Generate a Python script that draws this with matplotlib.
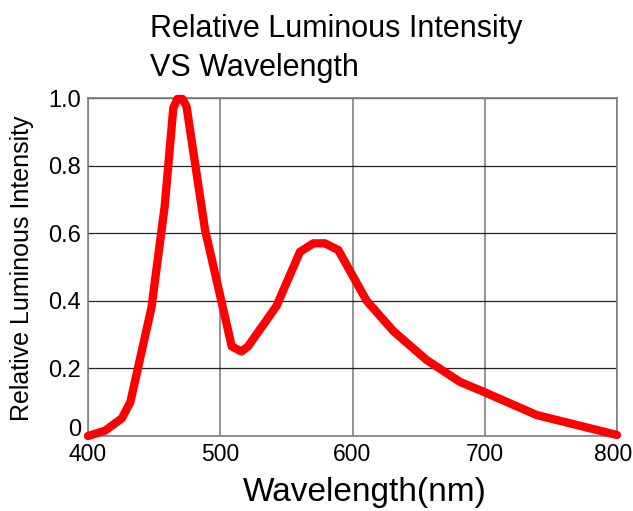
import numpy as np
import matplotlib.pyplot as plt
import matplotlib.transforms as mtransforms

plt.rcParams.update({'font.family': ['Liberation Sans', 'DejaVu Sans']})

# spectrum
wavelength = [400, 413, 425.5, 432, 448, 458, 464.5, 467.5, 471.5, 474.5, 488.5, 508.7, 516, 521,
              542.6, 560.3, 570.4, 579.2, 589.3, 610.7, 631, 656, 681.3, 699, 739.3, 800]
intensity = [0.0, 0.016, 0.052, 0.10, 0.38, 0.68, 0.97, 0.997, 0.997, 0.975, 0.61, 0.265, 0.25, 0.265,
             0.385, 0.545, 0.57, 0.57, 0.55, 0.40, 0.31, 0.225, 0.16, 0.131, 0.062, 0.003]

xticks = [400, 500, 600, 700, 800]
yticks = [0, 0.2, 0.4, 0.6, 0.8, 1.0]
ytick_labels = ['0', '0.2', '0.4', '0.6', '0.8', '1.0']

fig = plt.figure(figsize=(6.33, 5.11), dpi=100)
ax = fig.add_axes([88/633, 1-436/511, 529/633, 338/511])

ax.plot(wavelength, intensity, color='#ff0000', lw=6, solid_joinstyle='round',
        solid_capstyle='round', clip_on=False, zorder=5)

ax.set_xlim(400, 800)
ax.set_ylim(0, 1.0)
ax.set_xticks(xticks)
ax.set_yticks(yticks)
ax.set_yticklabels(ytick_labels)
ax.tick_params(length=0)
ax.tick_params(axis='y', pad=5, labelsize=17)
ax.tick_params(axis='x', pad=5, labelsize=16.5)

# the "0" label sits a bit above the bottom line, "800" is pulled in from the edge
lab0 = ax.get_yticklabels()[0]
lab0.set_transform(lab0.get_transform() + mtransforms.ScaledTranslation(0, 9/100, fig.dpi_scale_trans))
lab800 = ax.get_xticklabels()[-1]
lab800.set_transform(lab800.get_transform() + mtransforms.ScaledTranslation(-4/100, 0, fig.dpi_scale_trans))

for x in xticks:
    ax.axvline(x, color='#808080', lw=1.2, zorder=1)
for y in yticks:
    ax.axhline(y, color='#222222', lw=0.9, zorder=1)
for s in ax.spines.values():
    s.set_color('#808080')
    s.set_linewidth(1.2)

ax.set_xlabel('Wavelength(nm)', fontsize=24, va='center')
ax.xaxis.set_label_coords((365-88)/529, -(493-436)/338)
ax.set_ylabel('Relative Luminous Intensity', fontsize=18, va='center')
ax.yaxis.set_label_coords(-(88-22)/529, (436-268)/338)

fig.text(150/633, 1-29/511, 'Relative Luminous Intensity', fontsize=22, va='center', ha='left')
fig.text(150/633, 1-68/511, 'VS Wavelength', fontsize=22, va='center', ha='left')

fig.savefig('out.png', dpi=100)
